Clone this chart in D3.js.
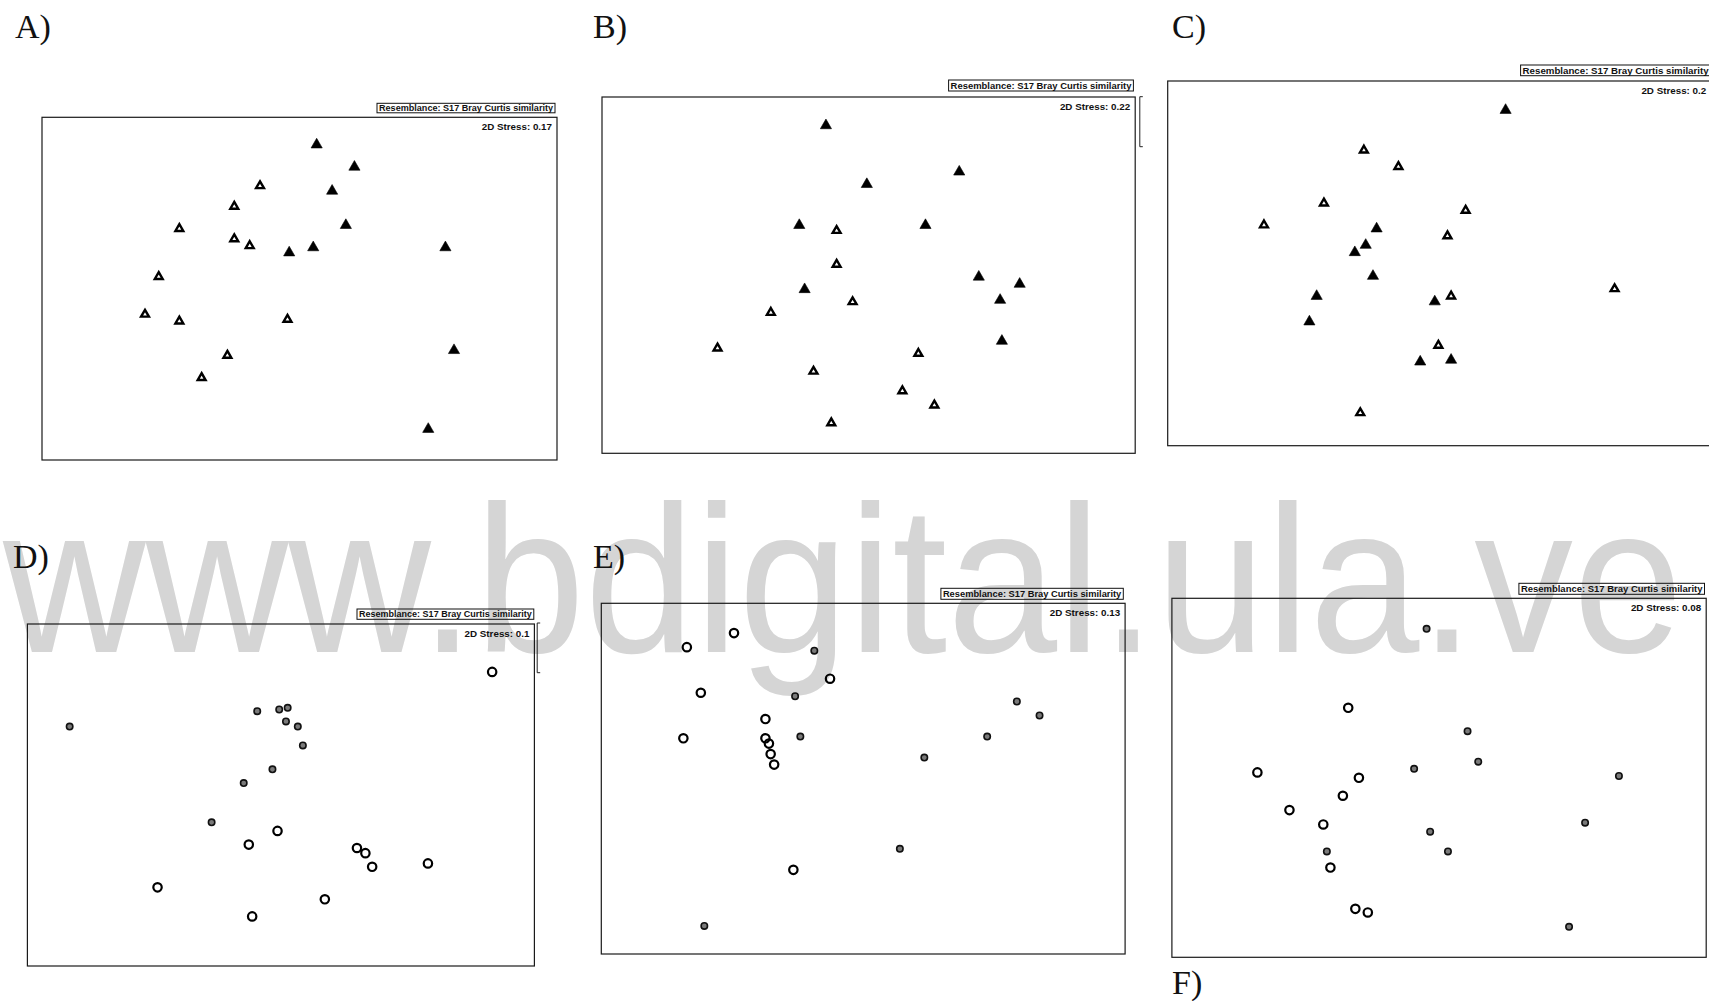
<!DOCTYPE html>
<html><head><meta charset="utf-8">
<script src="https://cdn.jsdelivr.net/npm/d3@7"></script>
<style>html,body{margin:0;padding:0;background:#fff;} svg{display:block;}</style>
</head><body>
<script>
// ---------------- DATA (NMDS coordinates) ----------------
const panelIds = ["A", "B", "C", "D", "E", "F"];
const legendText = "Resemblance: S17 Bray Curtis similarity";
const stressValues = ["0.17", "0.22", "0.2", "0.1", "0.13", "0.08"];
const watermarkText = "www.bdigital.ula.ve";

const aFilled = [[0.10,0.84],[0.32,0.71],[0.19,0.57],[0.27,0.37],[0.08,0.24],[-0.06,0.21],[0.85,0.24],[0.90,-0.36],[0.75,-0.82]];
const aHollow = [[-0.23,0.60],[-0.38,0.48],[-0.70,0.35],[-0.38,0.29],[-0.29,0.25],[-0.82,0.07],[-0.90,-0.15],[-0.70,-0.19],[-0.07,-0.18],[-0.42,-0.39],[-0.57,-0.52]];

const bFilled = [[-0.24,0.84],[-0.01,0.51],[0.51,0.58],[-0.39,0.28],[0.32,0.28],[-0.36,-0.08],[0.62,-0.01],[0.85,-0.05],[0.74,-0.14],[0.75,-0.37]];
const bHollow = [[-0.18,0.25],[-0.18,0.06],[-0.09,-0.15],[-0.55,-0.21],[-0.85,-0.41],[0.28,-0.44],[-0.31,-0.54],[0.19,-0.65],[0.37,-0.73],[-0.21,-0.83]];

const cFilled = [[0.36,0.84],[-0.35,0.19],[-0.41,0.10],[-0.47,0.06],[-0.37,-0.07],[-0.68,-0.18],[-0.72,-0.32],[-0.03,-0.21],[-0.11,-0.54],[0.06,-0.53]];
const cHollow = [[-0.42,0.62],[-0.23,0.53],[-0.64,0.33],[-0.97,0.21],[0.14,0.29],[0.04,0.15],[0.06,-0.18],[-0.01,-0.45],[0.96,-0.14],[-0.44,-0.82]];

const dGray = [[-1.25,0.40],[-0.14,0.49],[-0.01,0.50],[0.04,0.51],[0.03,0.43],[0.10,0.40],[0.13,0.29],[-0.05,0.15],[-0.22,0.07],[-0.41,-0.16]];
const dHollow = [[1.25,0.72],[-0.02,-0.21],[-0.19,-0.29],[0.45,-0.31],[0.50,-0.34],[0.54,-0.42],[0.87,-0.40],[-0.73,-0.54],[0.26,-0.61],[-0.17,-0.71]];

const eHollow = [[-0.74,0.83],[-1.01,0.75],[-0.19,0.57],[-0.93,0.49],[-0.56,0.34],[-1.03,0.23],[-0.56,0.23],[-0.54,0.20],[-0.53,0.14],[-0.51,0.08],[-0.40,-0.52]];
const eGray = [[-0.28,0.73],[-0.39,0.47],[-0.36,0.24],[0.35,0.12],[0.88,0.44],[1.01,0.36],[0.71,0.24],[0.21,-0.40],[-0.91,-0.84]];

const fGray = [[-0.07,0.83],[0.16,0.26],[0.22,0.09],[-0.14,0.05],[1.01,0.01],[0.82,-0.25],[-0.05,-0.30],[0.05,-0.41],[-0.63,-0.41],[0.73,-0.83]];
const fHollow = [[-0.51,0.39],[-1.02,0.03],[-0.45,0.00],[-0.54,-0.10],[-0.84,-0.18],[-0.65,-0.26],[-0.61,-0.50],[-0.47,-0.73],[-0.40,-0.75]];

const xDomain = [-1.5, 1.5];
const yDomain = [-1, 1];

// ---------------- LAYOUT ----------------
const W = 1709, H = 1001;
const layout = {
  A: {box:[42, 117.3, 515, 342.7], leg:[377, 103.3, 178, 9.5], label:[15, 38], marker:"tri", sets:[aFilled, aHollow]},
  B: {box:[602, 97, 533.2, 356.3], leg:[948.6, 80, 184.8, 11], label:[593, 38], bracket:[1139.8, 96.7, 146.7], marker:"tri", sets:[bFilled, bHollow]},
  C: {box:[1167.7, 81, 545, 364.7], leg:[1520.6, 65, 190, 10.7], label:[1172, 38], stressStart:[1641.4, 94], marker:"tri", sets:[cFilled, cHollow]},
  D: {box:[27.4, 624, 507, 342], leg:[357, 609, 176.8, 10.3], label:[13, 568], bracket:[537.2, 623, 672.7], marker:"circ", sets:[dGray, dHollow]},
  E: {box:[601.3, 603.3, 523.8, 350.7], leg:[940.9, 588.3, 182.4, 11], label:[593, 568], marker:"circ", sets:[eGray, eHollow]},
  F: {box:[1171.9, 598.3, 534.3, 359], leg:[1518.9, 583.3, 185.6, 11], label:[1172, 994], marker:"circ", sets:[fGray, fHollow]}
};

const svg = d3.select("body").append("svg").attr("width", W).attr("height", H);
svg.append("rect").attr("width", W).attr("height", H).attr("fill", "#fff");

// watermark (behind everything)
svg.append("text")
  .attr("x", 3).attr("y", 652)
  .attr("font-family", "'Liberation Sans', Arial, sans-serif")
  .attr("font-size", 210)
  .attr("textLength", 1680).attr("lengthAdjust", "spacingAndGlyphs")
  .attr("fill", "#d5d5d5")
  .text(watermarkText);

const sans = "'Liberation Sans', Arial, Helvetica, sans-serif";
const serif = "'Liberation Serif', 'Times New Roman', serif";

panelIds.forEach((id, i) => {
  const L = layout[id];
  const [bx, by, bw, bh] = L.box;
  const g = svg.append("g");

  const x = d3.scaleLinear().domain(xDomain).range([bx, bx + bw]);
  const y = d3.scaleLinear().domain(yDomain).range([by + bh, by]);

  // panel label
  g.append("text").attr("x", L.label[0]).attr("y", L.label[1])
    .attr("font-family", serif).attr("font-size", 34).attr("fill", "#111")
    .text(id + ")");

  // plot frame
  g.append("rect").attr("x", bx).attr("y", by).attr("width", bw).attr("height", bh)
    .attr("fill", "none").attr("stroke", "#1a1a1a").attr("stroke-width", 1.2);

  // resemblance legend box
  const [lx, ly, lw, lh] = L.leg;
  g.append("rect").attr("x", lx).attr("y", ly).attr("width", lw).attr("height", lh)
    .attr("fill", "none").attr("stroke", "#111").attr("stroke-width", 1);
  g.append("text").attr("x", lx + 2).attr("y", ly + lh - 2)
    .attr("font-family", sans).attr("font-weight", "bold").attr("font-size", 9)
    .attr("textLength", lw - 4).attr("lengthAdjust", "spacingAndGlyphs")
    .attr("fill", "#111").text(legendText);

  // stress text
  const st = g.append("text")
    .attr("font-family", sans).attr("font-weight", "bold").attr("font-size", 9.8)
    .attr("fill", "#111").text("2D Stress: " + stressValues[i]);
  if (L.stressStart) {
    st.attr("x", L.stressStart[0]).attr("y", L.stressStart[1]).attr("text-anchor", "start");
  } else {
    st.attr("x", bx + bw - 5).attr("y", by + 12.8).attr("text-anchor", "end");
  }

  // bracket mark to the right of some frames
  if (L.bracket) {
    const [kx, k1, k2] = L.bracket;
    g.append("path").attr("d", `M${kx + 3},${k1}L${kx},${k1}L${kx},${k2}L${kx + 3},${k2}`)
      .attr("fill", "none").attr("stroke", "#222").attr("stroke-width", 1);
  }

  // points
  const [set1, set2] = L.sets;
  if (L.marker === "tri") {
    const filledSym = d3.symbol().type(d3.symbolTriangle).size(54)();
    const hollowSym = d3.symbol().type(d3.symbolTriangle).size(27)();
    g.selectAll(null).data(set2).join("path")
      .attr("d", hollowSym)
      .attr("transform", d => `translate(${x(d[0])},${y(d[1])})`)
      .attr("fill", "#fff").attr("stroke", "#000").attr("stroke-width", 2.4)
      .attr("stroke-linejoin", "miter");
    g.selectAll(null).data(set1).join("path")
      .attr("d", filledSym)
      .attr("transform", d => `translate(${x(d[0])},${y(d[1])})`)
      .attr("fill", "#000").attr("stroke", "#000").attr("stroke-width", 0.6);
  } else {
    g.selectAll(null).data(set2).join("circle")
      .attr("cx", d => x(d[0])).attr("cy", d => y(d[1])).attr("r", 4.2)
      .attr("fill", "#fff").attr("fill-opacity", 0).attr("stroke", "#000").attr("stroke-width", 2.2);
    g.selectAll(null).data(set1).join("circle")
      .attr("cx", d => x(d[0])).attr("cy", d => y(d[1])).attr("r", 3.2)
      .attr("fill", "#7a7a7a").attr("stroke", "#111").attr("stroke-width", 1.6);
  }
});
</script>
</body></html>
